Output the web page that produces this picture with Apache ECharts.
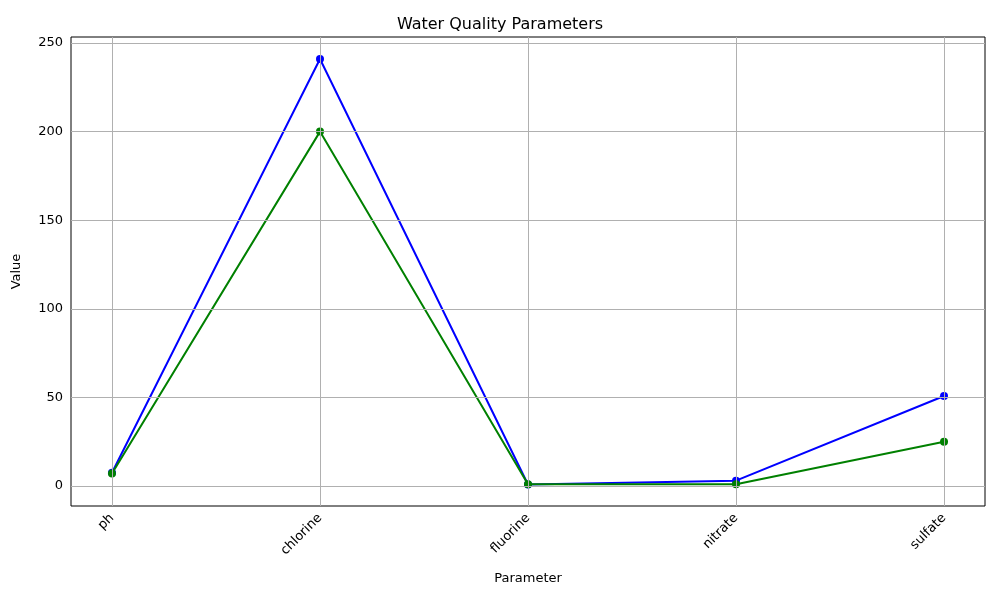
<!DOCTYPE html>
<html>
<head>
<meta charset="utf-8">
<script src="https://cdn.jsdelivr.net/npm/echarts@6/dist/echarts.min.js"></script>
</head>
<body style="margin:0">
<div id="chart" style="width:1000px;height:600px"></div>
<script>
var categories = ["ph", "chlorine", "fluorine", "nitrate", "sulfate"];
var blueValues = [7.5, 241, 0.8, 3, 50.8];
var greenValues = [7, 200, 1, 1, 25];
var yTicks = [0, 50, 100, 150, 200, 250];

var chart = echarts.init(document.getElementById("chart"));

function pairs(vals) {
	return vals.map(function(v, i) { return [i, v]; });
}

var gridStyle = { color: "#b0b0b0", width: 1, type: "solid" };
var markLines = categories.map(function(c, i) { return { xAxis: i }; })
	.concat(yTicks.map(function(t) { return { yAxis: t }; }));

chart.setOption({
	animation: false,
	title: {
		text: "Water Quality Parameters",
		left: "center",
		top: 12,
		textStyle: { fontFamily: "DejaVu Sans", fontSize: 16, fontWeight: "normal", color: "#000" }
	},
	grid: {
		left: 71, right: 15, top: 37, bottom: 94,
		show: true, borderColor: "#000", borderWidth: 1
	},
	xAxis: {
		type: "value",
		min: -0.197, max: 4.197,
		name: "Parameter", nameLocation: "middle", nameGap: 66,
		nameTextStyle: { fontFamily: "DejaVu Sans", fontSize: 13, color: "#000" },
		axisLine: { show: false },
		splitLine: { show: false },
		axisTick: { show: true, customValues: [0, 1, 2, 3, 4], length: 4, lineStyle: { color: "#000" } },
		axisLabel: {
			customValues: [0, 1, 2, 3, 4], rotate: 45, margin: 10,
			fontFamily: "DejaVu Sans", fontSize: 13, color: "#000",
			formatter: function(v) { return categories[Math.round(v)]; }
		}
	},
	yAxis: {
		type: "value",
		min: -11.3, max: 253.4,
		name: "Value", nameLocation: "middle", nameGap: 48,
		nameTextStyle: { fontFamily: "DejaVu Sans", fontSize: 13, color: "#000" },
		axisLine: { show: false },
		splitLine: { show: false },
		axisTick: { show: true, customValues: yTicks, length: 4, lineStyle: { color: "#000" } },
		axisLabel: { customValues: yTicks, fontFamily: "DejaVu Sans", fontSize: 13, color: "#000" }
	},
	series: [{
		type: "line",
		data: pairs(blueValues),
		symbol: "circle", symbolSize: 8,
		lineStyle: { color: "#0000ff", width: 2 },
		itemStyle: { color: "#0000ff" },
		markLine: {
			silent: true, symbol: "none", label: { show: false },
			lineStyle: gridStyle, data: markLines
		},
		z: 3
	}, {
		type: "line",
		data: pairs(greenValues),
		symbol: "circle", symbolSize: 8,
		lineStyle: { color: "#008000", width: 2 },
		itemStyle: { color: "#008000" },
		z: 4
	}]
});
</script>
</body>
</html>
